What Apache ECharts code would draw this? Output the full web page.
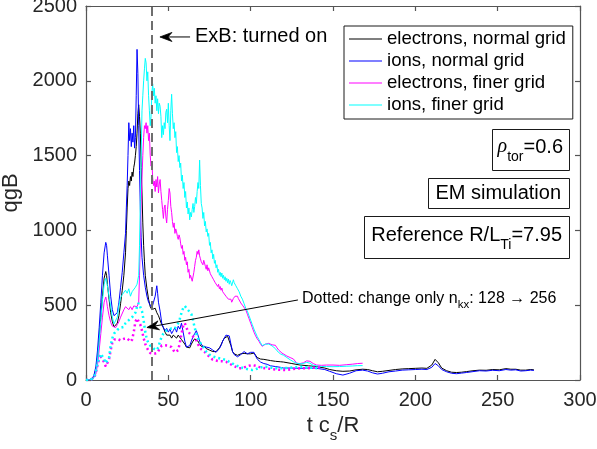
<!DOCTYPE html>
<html>
<head>
<meta charset="utf-8">
<script src="https://cdn.jsdelivr.net/npm/echarts/dist/echarts.min.js"></script>
<style>
  html, body { margin: 0; padding: 0; background: #fff; }
  #chart { width: 597px; height: 449px; }
</style>
</head>
<body>
<div id="chart"></div>
<script>
// Heat flux qgB versus time t c_s/R, ExB shearing switched on at t = 40.

const xTickStep = 50;
const yTickStep = 500;
const exbOnTime = 40;

// electrons, normal grid
const electronsNormal = [[0,0],[2,2],[4,8],[5,30],[6,70],[7,150],[8,280],[9,420],[10,560],[11,680],[12,725],[12.5,700],[13,640],[14,540],[15,450],[16,390],[17,355],[18,350],[19,380],[20,430],[21,510],[22,600],[23,700],[24,850],[24.5,1000],[25,1150],[25.5,1280],[26,1330],[26.5,1300],[27,1360],[27.5,1330],[28,1390],[28.5,1360],[29,1420],[29.5,1450],[30,1500],[30.5,1560],[31,1650],[31.5,1780],[32,1840],[32.5,1760],[33,1650],[33.5,1420],[34,1250],[34.5,1050],[35,900],[35.5,790],[36,700],[37,610],[38,540],[39,490],[40,470],[41,460],[42,480],[43,450],[44,430],[45,420],[46,370],[47,350],[48,320],[49,300],[50,290],[51,300],[52,280],[53,300],[54,290],[55,280],[56,300],[57,290],[58,270],[59,265],[60,240],[61,220],[62,210],[63,215],[64,240],[65,260],[66,275],[67,280],[68,260],[69,240],[70,225],[71,220],[72,225],[73,210],[74,205],[75,200],[76,195],[77,190],[78,188],[79,190],[80,200],[81,215],[82,235],[83,260],[84,280],[85,290],[86,292],[87,280],[88,230],[89,190],[90,175],[91,168],[92,165],[93,170],[94,175],[95,180],[96,178],[97,180],[98,175],[99,170],[100,175],[101,185],[102,180],[103,165],[104,150],[105,145],[106,140],[108,138],[110,134],[112,130],[115,125],[118,122],[120,120],[125,110],[130,100],[135,95],[140,90],[145,80],[148,70],[152,62],[156,58],[160,60],[164,68],[168,72],[171,70],[174,62],[177,55],[180,58],[184,64],[188,70],[192,74],[196,76],[200,78],[204,80],[207,78],[210,100],[212,138],[214,115],[216,80],[219,62],[222,52],[225,50],[228,52],[231,56],[235,62],[239,66],[243,65],[247,70],[251,68],[255,76],[258,72],[261,72],[264,66],[267,66],[270,70],[272,68]];

// ions, normal grid
const ionsNormal = [[0,0],[2,2],[4,10],[5,40],[6,90],[7,200],[8,350],[9,520],[10,700],[11,850],[12,920],[12.5,900],[13,830],[14,700],[15,560],[16,470],[17,430],[18,425],[19,450],[20,520],[21,620],[22,720],[23,850],[24,980],[24.5,1150],[25,1300],[25.5,1500],[26,1720],[26.5,1600],[27,1680],[27.5,1560],[28,1650],[28.5,1590],[29,1700],[29.5,1550],[30,1620],[30.5,1900],[31,2210],[31.5,2050],[32,1700],[32.5,1400],[33,1150],[33.5,950],[34,820],[35,700],[36,620],[37,560],[38,520],[39,500],[40,480],[41,520],[42,560],[43,630],[43.5,580],[44,520],[45,460],[46,380],[47,350],[48,330],[49,345],[50,320],[51,340],[52,310],[53,330],[54,350],[55,320],[56,360],[57,340],[58,380],[59,320],[60,260],[61,220],[62,210],[63,230],[64,260],[65,290],[66,310],[67,330],[68,300],[69,260],[70,240],[71,225],[72,235],[73,220],[74,230],[75,215],[76,205],[77,200],[78,190],[79,185],[80,195],[81,210],[82,230],[83,260],[84,280],[85,300],[86,300],[87,295],[88,240],[89,190],[90,170],[91,160],[92,155],[93,160],[94,170],[95,180],[96,190],[97,185],[98,175],[99,170],[100,185],[101,195],[102,185],[103,160],[104,140],[105,130],[106,120],[108,110],[110,105],[112,95],[115,90],[118,85],[120,80],[125,80],[130,78],[135,80],[140,78],[145,70],[148,58],[152,42],[156,33],[160,45],[164,62],[168,66],[171,60],[174,48],[177,40],[180,45],[184,55],[188,60],[192,66],[196,68],[200,70],[204,72],[207,70],[210,85],[212,110],[214,95],[216,70],[219,55],[222,45],[225,42],[228,46],[231,50],[235,56],[239,62],[243,60],[247,65],[251,62],[255,70],[258,66],[261,68],[264,60],[267,62],[270,66],[272,64]];

// electrons, finer grid
const electronsFiner = [[0,0],[2,1],[4,5],[5,15],[6,40],[7,100],[8,200],[9,310],[10,420],[11,520],[12,555],[12.5,530],[13,490],[14,430],[15,385],[16,360],[17,352],[18,350],[19,370],[20,390],[21,420],[22,430],[23,470],[24,490],[25,480],[26,470],[27,490],[28,470],[29,495],[30,505],[31,490],[32,520],[32.5,700],[33,950],[33.5,1200],[34,1350],[34.5,1500],[35,1620],[35.5,1700],[36,1680],[36.5,1720],[37,1650],[37.5,1700],[38,1600],[38.5,1650],[39,1500],[39.5,1430],[40,1460],[40.5,1350],[41,1300],[41.5,1330],[42,1260],[42.5,1340],[43,1290],[43.5,1360],[44,1250],[44.5,1310],[45,1340],[45.5,1260],[46,1200],[46.5,1140],[47,1080],[47.5,1150],[48,1170],[48.5,1090],[49,1050],[49.5,1140],[50,1200],[50.5,1280],[51,1250],[51.5,1160],[52,1120],[52.5,1060],[53,1020],[53.5,1050],[54,980],[54.5,1010],[55,990],[55.5,960],[56,940],[56.5,970],[57,950],[57.5,910],[58,880],[58.5,900],[59,840],[59.5,860],[60,800],[60.5,820],[61,770],[61.5,790],[62,720],[62.5,740],[63,680],[63.5,700],[64,690],[64.5,660],[65,670],[65.5,720],[66,760],[66.5,800],[67,820],[67.5,860],[68,840],[68.5,870],[69,830],[69.5,810],[70,790],[70.5,800],[71,770],[71.5,800],[72,790],[72.5,760],[73,740],[73.5,770],[74,730],[74.5,750],[75,740],[75.5,710],[76,720],[76.5,690],[77,700],[77.5,670],[78,680],[78.5,650],[79,640],[79.5,655],[80,625],[80.5,640],[81,610],[81.5,625],[82,600],[82.5,615],[83,590],[83.5,600],[84,575],[84.5,585],[85,560],[86,555],[86.5,540],[87,550],[87.5,530],[88,540],[88.5,520],[89,530],[89.5,545],[90,550],[90.5,560],[91,565],[91.5,570],[92,560],[92.5,545],[93,540],[94,515],[95,500],[96,490],[97,470],[98,440],[99,410],[100,380],[101,350],[102,320],[103,295],[104,275],[105,260],[106,240],[107,225],[108,230],[109,240],[110,245],[111,245],[112,240],[113,235],[114,238],[115,232],[116,215],[117,200],[118,190],[119,180],[120,170],[122,160],[124,150],[126,140],[128,112],[130,110],[132,115],[134,128],[135,135],[136,125],[138,110],[140,100],[143,98],[146,100],[150,100],[154,98],[158,102],[162,106],[165,110],[168,112]];

// ions, finer grid
const ionsFiner = [[0,0],[2,1],[4,6],[5,20],[6,60],[7,140],[8,260],[9,400],[10,530],[11,640],[12,680],[12.5,660],[13,630],[14,560],[15,490],[16,420],[17,375],[18,370],[19,420],[20,500],[21,550],[22,570],[23,560],[24,600],[25,580],[26,610],[27,560],[28,590],[29,600],[30,620],[31,640],[32,700],[32.5,900],[33,1200],[33.5,1500],[34,1800],[34.5,1900],[35,2000],[35.5,2080],[36,2150],[36.5,2120],[37,2000],[37.5,2060],[38,1900],[38.5,1800],[39,1700],[39.5,1760],[40,1920],[40.5,1980],[41,1900],[41.5,1950],[42,1850],[42.5,1900],[43,1800],[43.5,1880],[44,1780],[44.5,1850],[45,1830],[45.5,1760],[46,1620],[46.5,1700],[47,1640],[47.5,1720],[48,1680],[48.5,1790],[49,1810],[49.5,1720],[50,1850],[50.5,1700],[51,1600],[51.5,1800],[52,1910],[52.5,1780],[53,1680],[53.5,1720],[54,1620],[54.5,1660],[55,1520],[55.5,1560],[56,1460],[56.5,1500],[57,1420],[57.5,1450],[58,1330],[58.5,1370],[59,1280],[59.5,1320],[60,1220],[60.5,1260],[61,1150],[61.5,1190],[62,1110],[62.5,1150],[63,1070],[63.5,1120],[64,1090],[64.5,1140],[65,1180],[65.5,1120],[66,1160],[66.5,1220],[67,1180],[67.5,1260],[68,1320],[68.5,1280],[69,1470],[69.5,1300],[70,1180],[70.5,1150],[71,1080],[71.5,1120],[72,1030],[72.5,1060],[73,990],[73.5,1010],[74,960],[74.5,980],[75,900],[75.5,920],[76,850],[76.5,870],[77,810],[77.5,840],[78,780],[78.5,800],[79,750],[79.5,770],[80,720],[80.5,740],[81,700],[81.5,720],[82,690],[82.5,715],[83,680],[83.5,700],[84,670],[84.5,690],[85,660],[85.5,680],[86,650],[86.5,675],[87,640],[87.5,665],[88,650],[88.5,630],[89,640],[89.5,670],[90,650],[90.5,660],[91,630],[91.5,640],[92,610],[92.5,600],[93,590],[94,560],[95,540],[96,510],[97,480],[98,460],[99,430],[100,400],[101,370],[102,340],[103,315],[104,290],[105,270],[106,250],[107,230],[108,225],[109,240],[110,245],[111,240],[112,235],[113,228],[114,222],[115,210],[116,195],[117,185],[118,175],[119,170],[120,165],[122,150],[124,135],[126,122],[128,112],[130,108],[132,110],[134,118],[135,122],[136,112],[138,98],[140,94],[143,90],[146,90],[150,89],[154,90],[158,92],[162,94],[165,96],[168,96]];

// dotted runs: only n_kx changed, 128 -> 256
const electronsNkx = [[0,0],[3,2],[5,15],[6,50],[7,100],[8,140],[9,155],[10,150],[11,120],[12,90],[13,95],[14,140],[15,200],[16,250],[17,270],[18,280],[19,275],[20,270],[21,265],[22,270],[23,275],[24,280],[25,278],[26,265],[27,256],[28,270],[29,320],[30,390],[31,412],[32,400],[33,370],[34,330],[35,280],[36,240],[37,215],[38,195],[39,180],[40,178],[41,175],[42,172],[43,180],[44,195],[45,215],[46,230],[47,235],[48,232],[49,240],[50,230],[51,235],[52,220],[53,200],[54,185],[55,180],[56,200],[57,250],[58,310],[59,360],[60,380],[61,350],[62,325],[63,310],[64,300],[65,290],[66,280],[67,265],[68,240],[69,220],[70,205],[71,195],[72,188],[73,175],[75,155],[77,135],[79,130],[81,125],[83,125],[85,122],[87,110],[89,98],[91,88],[93,78],[95,80],[97,88],[99,95],[101,100],[103,95],[105,88],[107,82],[109,78],[111,76],[113,72],[115,70],[118,68],[121,66],[124,70],[127,75],[130,78],[133,78],[136,80],[139,82],[142,85]];

const ionsNkx = [[0,0],[3,2],[5,20],[6,60],[7,110],[8,150],[9,175],[10,170],[11,140],[12,112],[13,110],[14,150],[15,230],[16,280],[17,310],[18,320],[19,335],[20,330],[21,350],[22,360],[23,355],[24,380],[25,385],[26,400],[27,395],[28,420],[29,430],[30,450],[31,490],[32,515],[33,505],[34,460],[35,400],[36,320],[37,270],[38,245],[39,230],[40,220],[41,210],[42,205],[43,200],[44,220],[45,260],[46,290],[47,310],[48,325],[49,330],[50,335],[51,340],[52,345],[53,350],[54,345],[55,355],[56,380],[57,410],[58,450],[59,480],[60,495],[61,480],[62,470],[63,455],[64,440],[65,400],[66,350],[67,310],[68,280],[69,255],[70,240],[71,225],[72,205],[73,190],[74,180],[75,170],[77,158],[79,150],[81,145],[83,140],[85,134],[87,122],[89,110],[91,98],[93,90],[95,82],[97,75],[99,70],[101,67],[103,72],[105,80],[107,86],[109,89],[111,86],[113,82],[115,78],[118,78],[121,80],[124,82],[127,86],[130,88],[133,85],[136,82],[139,80],[142,78]];

const FONT = '"Liberation Sans", Arial, Helvetica, sans-serif';
const AXIS_COLOR = '#555';
const TEXT_COLOR = '#262626';

const chart = echarts.init(document.getElementById('chart'), null, { renderer: 'canvas' });

function solid(name, data, color) {
  return {
    name, type: 'line', data, color,
    showSymbol: false, symbol: 'none', animation: false, silent: true,
    lineStyle: { color, width: 1 },
    itemStyle: { color }
  };
}
function dotted(name, data, color) {
  return {
    name, type: 'line', data, color,
    showSymbol: false, symbol: 'none', animation: false, silent: true,
    lineStyle: { color, width: 2.5, type: [2, 3], cap: 'butt' },
    itemStyle: { color }
  };
}

const xAxisBase = {
  type: 'value', min: 0, max: 300, interval: xTickStep,
  axisLine: { show: true, onZero: false, lineStyle: { color: AXIS_COLOR, width: 1.2 } },
  axisTick: { show: true, inside: true, length: 5, lineStyle: { color: AXIS_COLOR, width: 1.2 } },
  splitLine: { show: false }
};
const yAxisBase = {
  type: 'value', min: 0, max: 2500, interval: yTickStep,
  axisLine: { show: true, onZero: false, lineStyle: { color: AXIS_COLOR, width: 1.2 } },
  axisTick: { show: true, inside: true, length: 5, lineStyle: { color: AXIS_COLOR, width: 1.2 } },
  splitLine: { show: false }
};

const blackSeries = solid('electrons, normal grid', electronsNormal, '#000000');
blackSeries.markLine = {
  silent: true, symbol: 'none', animation: false,
  label: { show: false },
  lineStyle: { color: '#6e6e6e', type: [9, 5], width: 2 },
  data: [{ xAxis: exbOnTime }]
};

const plainNumber = v => String(v);

const option = {
  animation: false,
  backgroundColor: '#ffffff',
  grid: { left: 86, right: 17, top: 6, bottom: 69, containLabel: false, outerBoundsMode: 'none' },
  xAxis: [
    Object.assign({}, xAxisBase, {
      position: 'bottom',
      axisLabel: { show: true, margin: 10, color: TEXT_COLOR, fontSize: 20, fontFamily: FONT, formatter: plainNumber }
    }),
    Object.assign({}, xAxisBase, { position: 'top', axisLabel: { show: false } })
  ],
  yAxis: [
    Object.assign({}, yAxisBase, {
      position: 'left',
      name: 'qgB', nameLocation: 'middle', nameGap: 57, nameRotate: 90,
      nameTextStyle: { color: TEXT_COLOR, fontSize: 22, fontFamily: FONT },
      axisLabel: { show: true, margin: 9, color: TEXT_COLOR, fontSize: 20, fontFamily: FONT, formatter: plainNumber }
    }),
    Object.assign({}, yAxisBase, { position: 'right', axisLabel: { show: false } })
  ],
  legend: {
    data: ['electrons, normal grid', 'ions, normal grid', 'electrons, finer grid', 'ions, finer grid'],
    orient: 'vertical', left: 344, top: 26,
    padding: [2, 7, 3, 5], itemGap: 0,
    itemWidth: 33, itemHeight: 1.2, icon: 'rect',
    backgroundColor: '#ffffff', borderColor: '#1a1a1a', borderWidth: 1, borderRadius: 0,
    selectedMode: false,
    textStyle: { color: '#000', fontSize: 18.6, fontFamily: FONT, lineHeight: 22, padding: [0, 0, 0, 0] }
  },
  series: [
    blackSeries,
    solid('ions, normal grid', ionsNormal, '#0000ff'),
    solid('electrons, finer grid', electronsFiner, '#ff00ff'),
    solid('ions, finer grid', ionsFiner, '#00ffff'),
    dotted('electrons, n_kx 256', electronsNkx, '#ff00ff'),
    dotted('ions, n_kx 256', ionsNkx, '#00ffff')
  ]
};

chart.setOption(option);

// ---- annotations (text boxes, arrows, x-axis title) ----
const measureCtx = document.createElement('canvas').getContext('2d');
function fontStr(p) { return (p.italic ? 'italic ' : '') + p.size + 'px ' + (p.family || FONT); }
function textWidth(p) { measureCtx.font = fontStr(p); return measureCtx.measureText(p.t).width; }

// lay text pieces left to right starting at x, centred on y (+dy for subscripts)
function textRun(x, y, parts, color) {
  const els = [];
  let cx = x;
  parts.forEach(p => {
    els.push({
      type: 'text', x: cx, y: y + (p.dy || 0), silent: true, z: 100,
      style: {
        text: p.t, font: fontStr(p), fill: color || '#000',
        textAlign: 'left', textVerticalAlign: 'middle', align: 'left', verticalAlign: 'middle'
      }
    });
    cx += textWidth(p) + (p.gap || 0);
  });
  return { els, width: cx - x };
}
function runWidth(parts) { return parts.reduce((s, p) => s + textWidth(p) + (p.gap || 0), 0); }

// boxed label right-aligned at xRight, spanning yTop..yBottom, text centred at yText
function boxedLabel(xRight, yTop, yBottom, yText, parts, padL, padR) {
  const w = runWidth(parts);
  const left = xRight - padR - w - padL;
  const rect = {
    type: 'rect', silent: true, z: 99,
    shape: { x: Math.round(left) + 0.5, y: yTop + 0.5, width: Math.round(xRight - left), height: yBottom - yTop },
    style: { fill: '#fff', stroke: '#1a1a1a', lineWidth: 1 }
  };
  const run = textRun(left + padL, yText, parts);
  return [rect].concat(run.els);
}

function arrow(fromData, toData) {
  const a = chart.convertToPixel({ gridIndex: 0 }, fromData);
  const b = chart.convertToPixel({ gridIndex: 0 }, toData);
  const ang = Math.atan2(a[1] - b[1], a[0] - b[0]);
  const c = Math.cos(ang), s = Math.sin(ang);
  const P = (l, w) => [b[0] + l * c - w * s, b[1] + l * s + w * c];
  const L = 12, W = 4.5, N = 8;
  return [
    { type: 'polyline', silent: true, z: 98, shape: { points: [a, P(N, 0)] }, style: { stroke: '#000', lineWidth: 1, fill: null } },
    { type: 'polygon', silent: true, z: 98, shape: { points: [b, P(L, -W), P(N, 0), P(L, W)] }, style: { fill: '#000', stroke: '#000', lineWidth: 0.8 } }
  ];
}

function buildGraphics() {
  const g = [];
  // ExB annotation
  g.push(...arrow([63.2, 2293], [44.9, 2293]));
  const exbPos = chart.convertToPixel({ gridIndex: 0 }, [66.2, 2293]);
  g.push(...textRun(exbPos[0], exbPos[1], [{ t: 'ExB: turned on', size: 20 }]).els);

  // dotted-run annotation
  g.push(...arrow([128.7, 535], [37.0, 351]));
  const dotPos = chart.convertToPixel({ gridIndex: 0 }, [131.2, 541]);
  g.push(...textRun(dotPos[0], dotPos[1], [
    { t: 'Dotted: change only n', size: 16 },
    { t: 'kx', size: 11.5, dy: 6 },
    { t: ': 128 \u2192 256', size: 16 }
  ]).els);

  // boxed parameter labels
  g.push(...boxedLabel(569, 129, 170, 147, [
    { t: '\u03c1', size: 20, italic: true, family: '"Liberation Serif", "DejaVu Serif", serif' },
    { t: 'tor', size: 14, dy: 10 },
    { t: '=0.6', size: 20 }
  ], 6, 6));
  g.push(...boxedLabel(569, 178, 208, 193, [{ t: 'EM simulation', size: 20 }], 7, 8));
  g.push(...boxedLabel(569, 216, 258, 235, [
    { t: 'Reference R/L', size: 20 },
    { t: 'Ti', size: 14, dy: 10 },
    { t: '=7.95', size: 20 }
  ], 7, 7));

  // x-axis title  t c_s/R
  const xParts = [
    { t: 't c', size: 22 },
    { t: 's', size: 15, dy: 10 },
    { t: '/R', size: 22 }
  ];
  const xw = runWidth(xParts);
  g.push(...textRun(333 - xw / 2, 426, xParts, TEXT_COLOR).els);
  return g;
}

chart.setOption({ graphic: { elements: buildGraphics() } });
</script>
</body>
</html>
